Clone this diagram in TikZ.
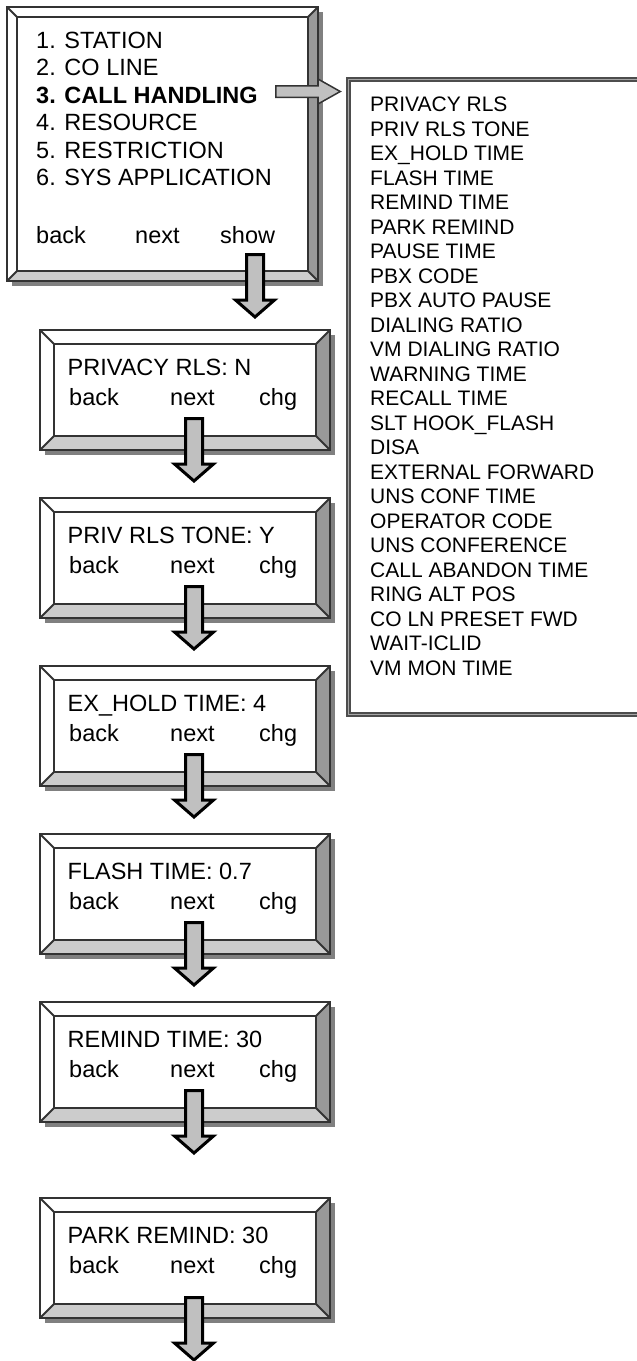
\documentclass[tikz,border=0pt]{standalone}
\usepackage{fontspec}
\setmainfont{Liberation Sans}
\usetikzlibrary{calc}
\definecolor{lnc}{HTML}{333333}
\definecolor{shc}{HTML}{808080}
\definecolor{rbc}{HTML}{999999}
\definecolor{bbc}{HTML}{CCCCCC}
\definecolor{arc}{HTML}{C0C0C0}
\definecolor{dblc}{HTML}{4D4D4D}
\definecolor{dblin}{HTML}{A6A6A6}
\tikzset{
 boxn/.style={inner sep=0pt, outer sep=0pt, anchor=north west},
 ln/.style={draw=lnc, line width=1.8pt},
 barrow/.style={draw=black, line width=3pt, fill=arc, line join=miter},
 rarrow/.style={draw=lnc, line width=1.5pt, fill=arc, line join=miter},
 mtxt/.style={anchor=base west, inner sep=0pt, font=\fontsize{23.5}{28}\selectfont},
 stxt/.style={anchor=base west, inner sep=0pt, font=\fontsize{23.5}{26}\selectfont},
 ltxt/.style={anchor=base west, inner sep=0pt, font=\fontsize{21}{24}\selectfont},
 dframe/.style={draw=dblc, double=dblin, line width=1.3pt, double distance=1.5pt},
}
\newcommand\bevelbox[2]{%
 \fill[shc] ($(#1.south west)+(5,5)$) rectangle ($(#1.north east)+(5,5)$);
 \coordinate (#1-i1) at ($(#1.north west)+(#2,#2)$);
 \coordinate (#1-i2) at ($(#1.north east)+(-#2,#2)$);
 \coordinate (#1-i3) at ($(#1.south east)+(-#2,-#2)$);
 \coordinate (#1-i4) at ($(#1.south west)+(#2,-#2)$);
 \fill[white] (#1.north west) rectangle (#1.south east);
 \fill[rbc] (#1.north east) -- (#1.south east) -- (#1-i3) -- (#1-i2) -- cycle;
 \fill[bbc] (#1.south west) -- (#1.south east) -- (#1-i3) -- (#1-i4) -- cycle;
 \draw[ln] (#1.north west) rectangle (#1.south east);
 \draw[ln] (#1-i1) rectangle (#1-i3);
 \draw[ln] (#1.north west) -- (#1-i1) (#1.north east) -- (#1-i2)
   (#1.south east) -- (#1-i3) (#1.south west) -- (#1-i4);
}
\newcommand\blockdown[1]{%
 \draw[barrow] ($(#1)+(-8.5,1.5)$) -- ($(#1)+(8.5,1.5)$) -- ($(#1)+(8.5,47)$)
  -- ($(#1)+(19.5,47)$) -- ($(#1)+(0,64)$) -- ($(#1)+(-19.5,47)$)
  -- ($(#1)+(-8.5,47)$) -- cycle;
}
\begin{document}
\begin{tikzpicture}[x=1pt,y=-1pt]
\useasboundingbox (0,0) rectangle (637,1361);
\clip (0,0) rectangle (637,1361);

% main menu box
\node[boxn, minimum width=311pt, minimum height=274pt] (m) at (7,7) {};
\bevelbox{m}{10}
\node[mtxt] (m1) at (36,48) {1. STATION};
\node[mtxt] (m2) at (36,75.5) {2. CO LINE};
\node[mtxt, font=\fontsize{23.5}{28}\selectfont\bfseries] (m3) at (36,103) {3. CALL HANDLING};
\node[mtxt] (m4) at (36,130.5) {4. RESOURCE};
\node[mtxt] (m5) at (36,158) {5. RESTRICTION};
\node[mtxt] (m6) at (36,185.5) {6. SYS APPLICATION};
\node[mtxt] (mb) at (36,243) {back};
\node[mtxt] (mn) at (135,243) {next};
\node[mtxt] (ms) at (220,243) {show};

% right list box
\node[boxn, minimum width=330pt, minimum height=635pt] (r) at (348.5,79.5) {};
\draw[dframe] (r.north west) rectangle (r.south east);
\foreach \t [count=\i from 0] in {PRIVACY RLS,PRIV RLS TONE,EX\_HOLD TIME,FLASH TIME,REMIND TIME,PARK REMIND,PAUSE TIME,PBX CODE,PBX AUTO PAUSE,DIALING RATIO,VM DIALING RATIO,WARNING TIME,RECALL TIME,SLT HOOK\_FLASH,DISA,EXTERNAL FORWARD,UNS CONF TIME,OPERATOR CODE,UNS CONFERENCE,CALL ABANDON TIME,RING ALT POS,CO LN PRESET FWD,WAIT-ICLID,VM MON TIME}
  \node[ltxt] (l\i) at (370,111.5+\i*24.5) {\t};

% arrow from menu to list
\coordinate (ra) at (275.75,91.5);
\draw[rarrow] ($(ra)+(0,-5.75)$) -- ($(ra)+(42.25,-5.75)$) -- ($(ra)+(42.25,-12.5)$)
  -- ($(ra)+(64.5,0)$) -- ($(ra)+(42.25,12.5)$) -- ($(ra)+(42.25,5.75)$)
  -- ($(ra)+(0,5.75)$) -- cycle;

% setting boxes
\foreach \n/\T/\txt in {s1/330/PRIVACY RLS: N, s2/498/PRIV RLS TONE: Y, s3/666/EX\_HOLD TIME: 4, s4/834/FLASH TIME: 0.7, s5/1002/REMIND TIME: 30, s6/1198/PARK REMIND: 30}{
  \node[boxn, minimum width=290pt, minimum height=120pt] (\n) at (40,\T) {};
  \bevelbox{\n}{14}
  \node[stxt] (\n-t) at (67.5,\T+45) {\txt};
  \node[stxt] (\n-b) at (69,\T+75) {back};
  \node[stxt] (\n-n) at (170,\T+75) {next};
  \node[stxt] (\n-c) at (259,\T+75) {chg};
}

% down arrows
\coordinate (a0) at (255,253);
\blockdown{a0}
\coordinate (a1) at (194,417);
\blockdown{a1}
\coordinate (a2) at (194,585);
\blockdown{a2}
\coordinate (a3) at (194,753);
\blockdown{a3}
\coordinate (a4) at (194,921);
\blockdown{a4}
\coordinate (a5) at (194,1089);
\blockdown{a5}
\coordinate (a6) at (194,1296);
\blockdown{a6}
\end{tikzpicture}
\end{document}
